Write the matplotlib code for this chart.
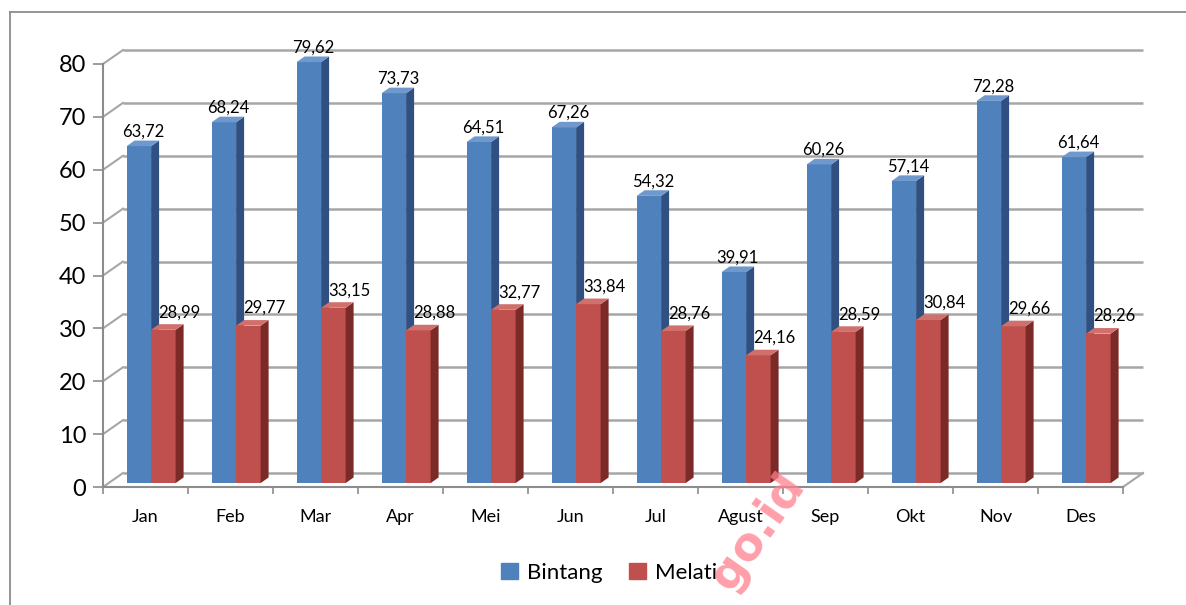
import matplotlib
matplotlib.use("Agg")
import matplotlib.pyplot as plt
from matplotlib.patches import Polygon, Patch
from matplotlib.lines import Line2D

categories = ["Jan", "Feb", "Mar", "Apr", "Mei", "Jun", "Jul", "Agust", "Sep", "Okt", "Nov", "Des"]
bintang = [63.72, 68.24, 79.62, 73.73, 64.51, 67.26, 54.32, 39.91, 60.26, 57.14, 72.28, 61.64]
melati = [28.99, 29.77, 33.15, 28.88, 32.77, 33.84, 28.76, 24.16, 28.59, 30.84, 29.66, 28.26]
series_names = ["Bintang", "Melati"]
yticks = [0, 10, 20, 30, 40, 50, 60, 70, 80]

FONT = ["Lato", "DejaVu Sans"]
plt.rcParams['font.family'] = FONT

W_PX, H_PX = 1186, 605
fig = plt.figure(figsize=(W_PX / 100, H_PX / 100), dpi=100)
fig.patch.set_facecolor("white")

# front plane of the pseudo-3D box in pixels
x0, x1 = 103, 1123
yb, yt = 487, 64
ax = fig.add_axes([x0 / W_PX, (H_PX - yb) / H_PX, (x1 - x0) / W_PX, (yb - yt) / H_PX])
n = len(categories)
ax.set_xlim(0, n)
ax.set_ylim(0, 80)
ax.patch.set_alpha(0)

pxx = (x1 - x0) / n
pxy = (yb - yt) / 80.0
DX = 20 / pxx      # full depth, x units
DY = 14 / pxy      # full depth, y units

grid_c = "#a6a6a6"
axis_c = "#8c8c8c"

# back wall gridlines and side-wall diagonals
for v in yticks:
    ax.plot([DX, n + DX], [v + DY, v + DY], color=grid_c, lw=1.8, clip_on=False, zorder=1,
            solid_capstyle="butt")
    ax.plot([0, DX], [v, v + DY], color=grid_c, lw=1.5, clip_on=False, zorder=1)
# floor right edge
ax.plot([n, n + DX], [0, DY], color=grid_c, lw=1.5, clip_on=False, zorder=1)

for s in ["top", "right"]:
    ax.spines[s].set_visible(False)
for s in ["left", "bottom"]:
    ax.spines[s].set_color(axis_c)
    ax.spines[s].set_linewidth(1.5)

ax.set_yticks(yticks)
ax.set_yticklabels([str(v) for v in yticks], fontsize=17)
ax.tick_params(axis="y", length=7, width=1.2, color=axis_c, pad=5)

ax.set_xticks([i + 0.5 for i in range(n)])
ax.set_xticklabels(categories, fontsize=13)
ax.set_xticks(range(n + 1), minor=True)
ax.tick_params(axis="x", which="major", length=0, pad=16)
ax.tick_params(axis="x", which="minor", length=5, width=1.2, color=axis_c)

# bars
f0, f1 = 0.28, 0.68          # depth fractions of bar front/back
bw = 24.5 / pxx
ox, oy = f0 * DX, f0 * DY
ddx, ddy = (f1 - f0) * DX, (f1 - f0) * DY

colors = [("#4f81bd", "#2f5080", "#6f98cc"), ("#c0504d", "#7c2a28", "#d0706d")]
data = [bintang, melati]

for si, (vals, (cf, cs, ct)) in enumerate(zip(data, colors)):
    xs = [i + 0.5 + ox + (si - 0.5) * bw for i in range(n)]
    bars = ax.bar(xs, vals, width=bw, bottom=oy, color=cf, zorder=3 + si * 2, linewidth=0)
    for b in bars:
        b.set_clip_on(False)
    for x, v in zip(xs, vals):
        xr = x + bw / 2
        xl = x - bw / 2
        top = oy + v
        ax.add_patch(Polygon([(xr, oy), (xr, top), (xr + ddx, top + ddy), (xr + ddx, oy + ddy)],
                             closed=True, color=cs, lw=0, zorder=3 + si * 2, clip_on=False))
        ax.add_patch(Polygon([(xl, top), (xr, top), (xr + ddx, top + ddy), (xl + ddx, top + ddy)],
                             closed=True, color=ct, lw=0, zorder=3 + si * 2, clip_on=False))
        lbl = f"{v:.2f}".replace(".", ",")
        if si == 0:
            ax.text(x + 4 / pxx, top + ddy + 1 / pxy, lbl, ha="center", va="bottom",
                    fontsize=12, zorder=10, clip_on=False)
        else:
            ax.text(x + 16 / pxx, top + ddy + 12 / pxy, lbl, ha="center", va="center",
                    fontsize=12, zorder=10, clip_on=False)

# legend
handles = [Patch(color=colors[0][0]), Patch(color=colors[1][0])]
fig.legend(handles, series_names, loc="center", bbox_to_anchor=(609 / W_PX, 1 - 573 / H_PX),
           ncol=2, frameon=False, fontsize=16, handlelength=0.75, handleheight=0.75,
           handletextpad=0.4, columnspacing=1.2)

# outer frame
fig.add_artist(Line2D([10 / W_PX, 10 / W_PX], [0, 1 - 12 / H_PX], color="#8c8c8c", lw=1.3,
                      transform=fig.transFigure))
fig.add_artist(Line2D([10 / W_PX, 1], [1 - 12 / H_PX, 1 - 12 / H_PX], color="#8c8c8c", lw=1.3,
                      transform=fig.transFigure))

# watermark
fig.text(758 / W_PX, 1 - 532 / H_PX, "go.id", color="#ff7f8c", alpha=0.75, fontsize=33,
         fontweight="bold", rotation=55, ha="center", va="center", zorder=20,
         family=["DejaVu Sans"])

fig.savefig("out.png", dpi=100, facecolor="white")
